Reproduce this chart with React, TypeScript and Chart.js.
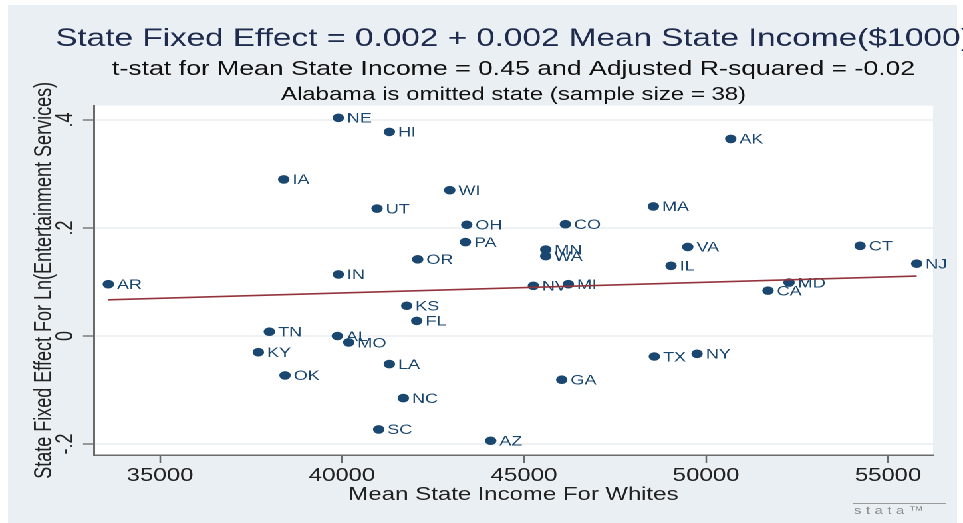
import React, { useEffect, useRef } from "react";
import { Chart, registerables } from "chart.js";

Chart.register(...registerables);

// ---------- data ----------
const stateCodes = [
  "NE", "HI", "IA", "WI", "UT", "OH", "PA", "OR", "IN", "AR",
  "KS", "FL", "TN", "AL", "MO", "KY", "LA", "OK", "NC", "SC",
  "AK", "MA", "CO", "VA", "CT", "MN", "WA", "IL", "NJ", "NV",
  "MI", "MD", "CA", "TX", "NY", "GA", "AZ",
];
const meanIncome = [
  39898, 41300, 38398, 42958, 40962, 43425, 43388, 42079, 39898, 33580,
  41777, 42052, 38003, 39871, 40184, 37701, 41300, 38434, 41684, 41008,
  50678, 48553, 46135, 49497, 54231, 45596, 45596, 49038, 55788, 45256,
  46217, 52280, 51703, 48580, 49753, 46035, 44085,
];
const fixedEffect = [
  0.404, 0.378, 0.290, 0.270, 0.236, 0.206, 0.174, 0.142, 0.114, 0.096,
  0.056, 0.028, 0.008, 0.0, -0.012, -0.030, -0.052, -0.073, -0.115, -0.173,
  0.365, 0.240, 0.207, 0.165, 0.167, 0.160, 0.148, 0.130, 0.134, 0.093,
  0.096, 0.099, 0.084, -0.038, -0.033, -0.081, -0.194,
];
const fitIncome = [33580, 55788];
const fitEffect = [0.067, 0.111];

const xTickValues = [35000, 40000, 45000, 50000, 55000];
const xTickLabels = ["35000", "40000", "45000", "50000", "55000"];
const yTickValues = [-0.2, 0, 0.2, 0.4];
const yTickLabels = ["-.2", "0", ".2", ".4"];

const titleText = "State Fixed Effect = 0.002 + 0.002 Mean State Income($1000)";
const subtitleText = "t-stat for Mean State Income = 0.45 and Adjusted R-squared = -0.02";
const noteText = "Alabama is omitted state (sample size = 38)";
const xAxisTitle = "Mean State Income For Whites";
const yAxisTitle = "State Fixed Effect For Ln(Entertainment Services)";

// ---------- look ----------
const W = 724;
const H = 523;
const STRETCH = 963 / W;
const FONT = "'Liberation Sans', Arial, Helvetica, sans-serif";
const NAVY = "#1a476f";
const MAROON = "#93333b";
const OUTER_BG = "#e9eff2";
const GRID = "#dde5ea";
const AXIS = "#6a6a6a";
const TEXT = "#222222";

const backgroundPlugin = {
  id: "stataBackground",
  beforeDraw(chart: any) {
    const { ctx, chartArea } = chart;
    ctx.save();
    ctx.fillStyle = "#ffffff";
    ctx.fillRect(0, 0, W, H);
    ctx.fillStyle = OUTER_BG;
    ctx.fillRect(6, 5, 713.5, H - 5);
    ctx.fillStyle = "#ffffff";
    ctx.fillRect(chartArea.left, chartArea.top, chartArea.right - chartArea.left, chartArea.bottom - chartArea.top);
    ctx.restore();
  },
};

const markerLabelPlugin = {
  id: "markerLabels",
  afterDatasetDraw(chart: any, args: any) {
    if (args.index !== 0) return;
    const { ctx } = chart;
    const meta = chart.getDatasetMeta(0);
    ctx.save();
    ctx.font = `13.5px ${FONT}`;
    ctx.fillStyle = NAVY;
    ctx.textAlign = "left";
    ctx.textBaseline = "alphabetic";
    meta.data.forEach((pt: any, i: number) => {
      ctx.fillText(stateCodes[i], pt.x + 6.5, pt.y + 4.8);
    });
    ctx.restore();
  },
};

const titlesPlugin = {
  id: "stataTitles",
  afterDraw(chart: any) {
    const { ctx, chartArea } = chart;
    const cx = (chartArea.left + chartArea.right) / 2;
    ctx.save();
    ctx.textAlign = "center";
    ctx.textBaseline = "alphabetic";
    ctx.fillStyle = "#1e2b4e";
    ctx.font = `25px ${FONT}`;
    ctx.fillText(titleText, cx, 46);
    ctx.fillStyle = "#111111";
    ctx.font = `20px ${FONT}`;
    ctx.fillText(subtitleText, cx, 75);
    ctx.font = `18px ${FONT}`;
    ctx.fillText(noteText, cx, 100);

    // stata logo
    ctx.strokeStyle = "#9a9a9a";
    ctx.lineWidth = 1;
    ctx.beginPath();
    ctx.moveTo(641, 503.5);
    ctx.lineTo(711, 503.5);
    ctx.stroke();
    ctx.fillStyle = "#8c8c8c";
    ctx.font = `11px ${FONT}`;
    ctx.textAlign = "left";
    (ctx as any).letterSpacing = "3.5px";
    ctx.fillText("stata\u2122", 642, 514);
    ctx.restore();
  },
};

export default function App() {
  const canvasRef = useRef<HTMLCanvasElement | null>(null);

  useEffect(() => {
    const canvas = canvasRef.current;
    if (!canvas) return;

    const scatterPoints = meanIncome.map((x, i) => ({ x, y: fixedEffect[i] }));
    const fitPoints = fitIncome.map((x, i) => ({ x, y: fitEffect[i] }));

    const chart = new Chart(canvas, {
      type: "scatter",
      data: {
        datasets: [
          {
            label: "State fixed effect",
            data: scatterPoints,
            order: 1,
            pointStyle: "circle",
            pointRadius: 4.3,
            pointBackgroundColor: NAVY,
            pointBorderWidth: 0,
            backgroundColor: NAVY,
            borderColor: NAVY,
          },
          {
            type: "line",
            label: "Fitted values",
            data: fitPoints,
            order: 0,
            showLine: true,
            pointRadius: 0,
            borderColor: MAROON,
            borderWidth: 1.7,
            fill: false,
          } as any,
        ],
      },
      options: {
        responsive: false,
        animation: false,
        devicePixelRatio: 2,
        events: [],
        layout: {
          padding: { left: 10, right: 22.5, top: 105.7, bottom: 17 },
        },
        plugins: {
          legend: { display: false },
          tooltip: { enabled: false },
          title: { display: false },
        },
        scales: {
          x: {
            type: "linear",
            position: "bottom",
            min: 33187,
            max: 56236,
            afterBuildTicks: (scale: any) => {
              scale.ticks = xTickValues.map((value) => ({ value }));
            },
            afterFit: (scale: any) => {
              scale.height = 51;
            },
            ticks: {
              autoSkip: false,
              maxRotation: 0,
              minRotation: 0,
              padding: 2,
              color: TEXT,
              font: { family: FONT, size: 18 },
              callback: (_v: any, i: number) => xTickLabels[i],
            },
            grid: {
              drawOnChartArea: false,
              drawTicks: true,
              tickLength: 8,
              tickColor: AXIS,
              tickWidth: 1.3,
            },
            border: { display: true, color: AXIS, width: 1.5 },
            title: {
              display: true,
              text: xAxisTitle,
              color: TEXT,
              font: { family: FONT, size: 18 },
              padding: { top: 0, bottom: 0 },
            },
          },
          y: {
            type: "linear",
            position: "left",
            min: -0.2204,
            max: 0.4265,
            afterBuildTicks: (scale: any) => {
              scale.ticks = yTickValues.map((value) => ({ value }));
            },
            afterFit: (scale: any) => {
              scale.width = 60.7;
            },
            ticks: {
              autoSkip: false,
              minRotation: 90,
              maxRotation: 90,
              crossAlign: "center",
              padding: 2.3,
              color: TEXT,
              font: { family: FONT, size: 18 },
              callback: (_v: any, i: number) => yTickLabels[i],
            },
            grid: {
              drawOnChartArea: true,
              color: GRID,
              lineWidth: 1,
              drawTicks: true,
              tickLength: 8.3,
              tickColor: AXIS,
              tickWidth: 1.3,
            },
            border: { display: true, color: AXIS, width: 1.5 },
            title: {
              display: true,
              text: yAxisTitle,
              color: TEXT,
              font: { family: FONT, size: 18 },
              padding: { top: 12.5, bottom: 0 },
            },
          },
        },
      } as any,
      plugins: [backgroundPlugin, markerLabelPlugin, titlesPlugin],
    });

    return () => {
      chart.destroy();
    };
  }, []);

  return (
    <div
      style={{
        position: "fixed",
        left: 0,
        top: 0,
        width: W,
        height: H,
        transform: `scaleX(${STRETCH})`,
        transformOrigin: "0 0",
        background: "#ffffff",
      }}
    >
      <canvas ref={canvasRef} width={W} height={H} style={{ width: W, height: H, display: "block" }} />
    </div>
  );
}
